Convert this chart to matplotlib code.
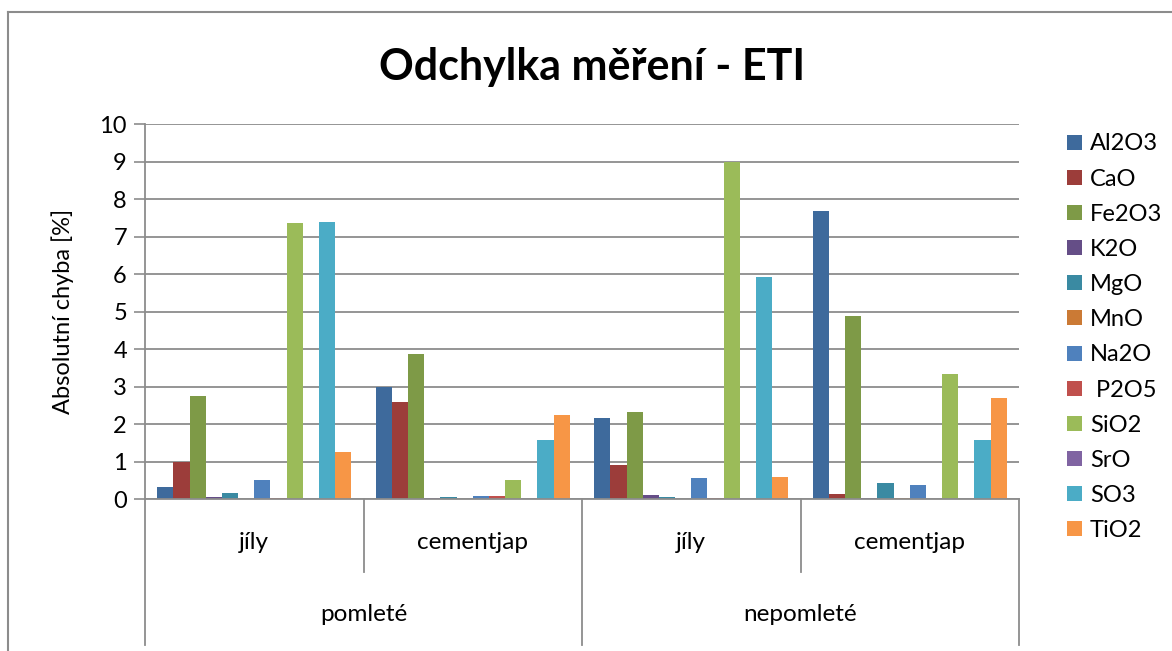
"""Odchylka měření - ETI: grouped bar chart with two-level category axis."""

import matplotlib
matplotlib.use("Agg")
import matplotlib.pyplot as plt
from matplotlib.lines import Line2D
import numpy as np

plt.rcParams["font.family"] = ["Lato", "DejaVu Sans"]

# categories (inner level / outer level)
inner_labels = ["jíly", "cementjap", "jíly", "cementjap"]
outer_labels = ["pomleté", "nepomleté"]

series = ["Al2O3", "CaO", "Fe2O3", "K2O", "MgO", "MnO",
          "Na2O", " P2O5", "SiO2", "SrO", "SO3", "TiO2"]

# values per series, one per inner category
al2o3 = [0.32, 3.00, 2.16, 7.69]
cao = [1.00, 2.60, 0.90, 0.14]
fe2o3 = [2.75, 3.86, 2.32, 4.87]
k2o = [0.05, 0.03, 0.12, 0.02]
mgo = [0.15, 0.06, 0.06, 0.43]
mno = [0.00, 0.00, 0.00, 0.02]
na2o = [0.52, 0.09, 0.57, 0.38]
p2o5 = [0.04, 0.09, 0.03, 0.00]
sio2 = [7.36, 0.50, 9.00, 3.33]
sro = [0.00, 0.00, 0.00, 0.00]
so3 = [7.39, 1.57, 5.93, 1.58]
tio2 = [1.25, 2.25, 0.60, 2.70]

values = [al2o3, cao, fe2o3, k2o, mgo, mno, na2o, p2o5, sio2, sro, so3, tio2]

colors = ["#3E6A9C", "#9C3D3A", "#7E9A47", "#654E87", "#3A8AA2", "#CB7A35",
          "#4F81BD", "#C0504D", "#9BBB59", "#8064A2", "#4BACC6", "#F79646"]

GRID = "#8C8C8C"
FS = 17

fig = plt.figure(figsize=(11.72, 6.51), dpi=100)
ax = fig.add_axes([145 / 1172, 1 - 499 / 651, (1019 - 145) / 1172, 375 / 651])

n = len(series)
w = 1 / (n + 1.5)
x = np.arange(len(inner_labels))
for k, (name, vals, c) in enumerate(zip(series, values, colors)):
    ax.bar(x + (k - (n - 1) / 2) * w, vals, width=w, color=c, label=name,
           linewidth=0, zorder=3)

ax.set_xlim(-0.5, len(inner_labels) - 0.5)
ax.set_ylim(0, 10)
ax.set_yticks(range(0, 11))
ax.tick_params(axis="y", labelsize=FS, length=8, width=1.2, color=GRID, pad=5)
ax.set_xticks([])
ax.yaxis.grid(True, color=GRID, linewidth=1.3, zorder=0)
for s in ["top", "right", "bottom"]:
    ax.spines[s].set_visible(False)
ax.spines["left"].set_color(GRID)
ax.spines["left"].set_linewidth(1.3)
ax.set_ylabel("Absolutní chyba [%]", fontsize=FS, labelpad=18)

# two-level category axis
tr = ax.get_xaxis_transform()
ax.plot([-0.5, 3.5], [0, 0], color=GRID, lw=1.3, transform=tr, clip_on=False, zorder=4)
for xs, depth in [(-0.5, -0.389), (0.5, -0.195), (1.5, -0.389), (2.5, -0.195), (3.5, -0.389)]:
    ax.plot([xs, xs], [0, depth], color=GRID, lw=1.3, transform=tr, clip_on=False)
for i, lab in enumerate(inner_labels):
    ax.text(i, -0.117, lab, transform=tr, ha="center", va="center", fontsize=FS + 0.5)
for j, lab in enumerate(outer_labels):
    ax.text(2 * j + 0.5, -0.309, lab, transform=tr, ha="center", va="center", fontsize=FS + 0.5)

fig.text(592 / 1172, 1 - 67 / 651, "Odchylka měření - ETI", ha="center", va="center",
         fontsize=31, fontweight="bold")

# outer chart border (only left and top visible)
fig.add_artist(Line2D([8 / 1172, 8 / 1172], [0, 1 - 12 / 651], color=GRID, lw=1.5))
fig.add_artist(Line2D([8 / 1172, 1], [1 - 12 / 651, 1 - 12 / 651], color=GRID, lw=1.5))

ax.legend(loc="upper left", bbox_to_anchor=(1058 / 1172, 1 - 124 / 651),
          bbox_transform=fig.transFigure, frameon=False, fontsize=FS,
          handlelength=0.6, handleheight=0.6, handletextpad=0.35,
          labelspacing=0.6, borderaxespad=0)

fig.savefig("out.png", dpi=100)
